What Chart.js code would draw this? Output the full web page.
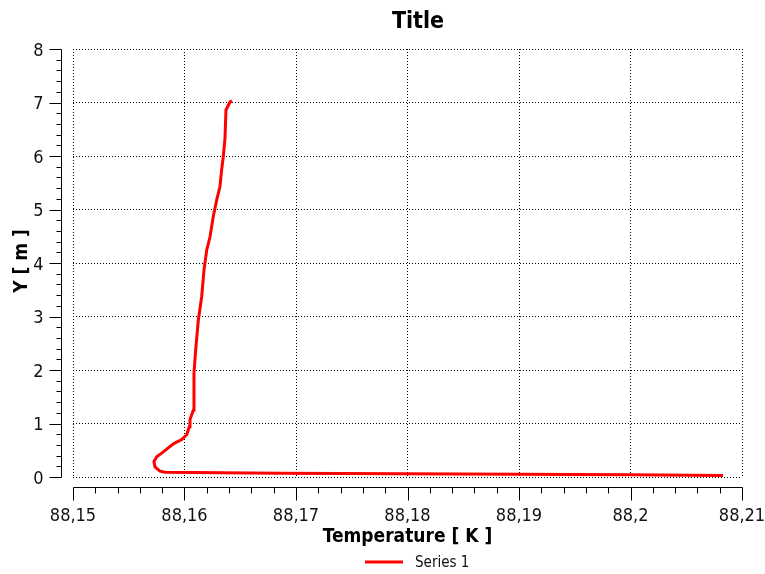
<!DOCTYPE html>
<html>
<head>
<meta charset="utf-8">
<script src="https://cdn.jsdelivr.net/npm/chart.js@4"></script>
<style>
  html, body { margin: 0; padding: 0; background: #fff; }
  canvas { display: block; }
</style>
</head>
<body>
<canvas id="profile" width="765" height="574"></canvas>
<script>
// Temperature profile along Y

var temperature = [
  88.20830, 88.19996, 88.19009, 88.17933, 88.16857, 88.16318, 88.15825,
  88.15780, 88.15735, 88.15726, 88.15751, 88.15810, 88.15900, 88.15975,
  88.16020, 88.16043, 88.16049, 88.16079, 88.16085, 88.16100, 88.16124,
  88.16154, 88.16175, 88.16199, 88.16229, 88.16258, 88.16289, 88.16318,
  88.16333, 88.16348, 88.16363, 88.16372, 88.16408, 88.16426
];
var height = [
  0.03, 0.04, 0.05, 0.06, 0.07, 0.08, 0.09,
  0.11, 0.19, 0.29, 0.38, 0.47, 0.62, 0.70,
  0.79, 0.94, 1.07, 1.25, 1.94, 2.37, 2.93,
  3.37, 3.87, 4.24, 4.49, 4.87, 5.18, 5.43,
  5.74, 5.99, 6.33, 6.86, 7.01, 7.03
];

var xTicks = [88.15, 88.16, 88.17, 88.18, 88.19, 88.20, 88.21];
var xTickLabels = ['88,15', '88,16', '88,17', '88,18', '88,19', '88,2', '88,21'];
var yTicks = [0, 1, 2, 3, 4, 5, 6, 7, 8];
var yTickLabels = ['0', '1', '2', '3', '4', '5', '6', '7', '8'];

var tickFont = '18px "DejaVu Sans Condensed", "DejaVu Sans", sans-serif';
var titleFont = 'bold 19px "DejaVu Sans Condensed", "DejaVu Sans", sans-serif';

// axes sit a little away from the plot area, with minor ticks
var detachedAxes = {
  id: 'detachedAxes',
  afterDraw: function (chart) {
    var ctx = chart.ctx;
    var area = chart.chartArea;
    var x = chart.scales.x;
    var y = chart.scales.y;
    var axisX = area.left - 11.5;
    var axisY = area.bottom + 10.5;
    var i, k, v, p;

    ctx.save();
    ctx.strokeStyle = '#000';
    ctx.lineWidth = 1;

    // y axis
    ctx.beginPath();
    ctx.moveTo(axisX, Math.round(y.getPixelForValue(yTicks[yTicks.length - 1])) + 0.5);
    ctx.lineTo(axisX, Math.round(y.getPixelForValue(yTicks[0])) + 0.5);
    for (i = 0; i < yTicks.length; i++) {
      p = Math.round(y.getPixelForValue(yTicks[i])) + 0.5;
      ctx.moveTo(axisX - 12, p);
      ctx.lineTo(axisX, p);
      if (i < yTicks.length - 1) {
        for (k = 1; k < 5; k++) {
          v = yTicks[i] + (yTicks[i + 1] - yTicks[i]) * k / 5;
          p = Math.round(y.getPixelForValue(v)) + 0.5;
          ctx.moveTo(axisX - 5, p);
          ctx.lineTo(axisX, p);
        }
      }
    }
    ctx.stroke();

    // x axis
    ctx.beginPath();
    ctx.moveTo(Math.round(x.getPixelForValue(xTicks[0])) + 0.5, axisY);
    ctx.lineTo(Math.round(x.getPixelForValue(xTicks[xTicks.length - 1])) + 0.5, axisY);
    for (i = 0; i < xTicks.length; i++) {
      p = Math.round(x.getPixelForValue(xTicks[i])) + 0.5;
      ctx.moveTo(p, axisY);
      ctx.lineTo(p, axisY + 13);
      if (i < xTicks.length - 1) {
        for (k = 1; k < 5; k++) {
          v = xTicks[i] + (xTicks[i + 1] - xTicks[i]) * k / 5;
          p = Math.round(x.getPixelForValue(v)) + 0.5;
          ctx.moveTo(p, axisY);
          ctx.lineTo(p, axisY + 6);
        }
      }
    }
    ctx.stroke();

    // tick labels
    ctx.fillStyle = '#111';
    ctx.font = tickFont;
    ctx.textBaseline = 'alphabetic';
    ctx.textAlign = 'right';
    for (i = 0; i < yTicks.length; i++) {
      ctx.fillText(yTickLabels[i], axisX - 18, y.getPixelForValue(yTicks[i]) + 6.5);
    }
    ctx.textAlign = 'center';
    for (i = 0; i < xTicks.length; i++) {
      ctx.fillText(xTickLabels[i], x.getPixelForValue(xTicks[i]), 521);
    }

    // axis titles
    ctx.fillStyle = '#000';
    ctx.font = titleFont;
    ctx.fillText('Temperature [ K ]', (area.left + area.right) / 2, 542);
    ctx.save();
    ctx.translate(27, (area.top + area.bottom) / 2 - 2);
    ctx.rotate(-Math.PI / 2);
    ctx.fillText('Y [ m ]', 0, 0);
    ctx.restore();

    // chart title
    ctx.font = 'bold 23px "DejaVu Sans Condensed", "DejaVu Sans", sans-serif';
    ctx.fillText('Title', 418, 28);

    // legend
    var ds = chart.data.datasets[0];
    ctx.strokeStyle = ds.borderColor;
    ctx.lineWidth = 3;
    ctx.beginPath();
    ctx.moveTo(365, 562);
    ctx.lineTo(403, 562);
    ctx.stroke();
    ctx.fillStyle = '#111';
    ctx.font = '15px "DejaVu Sans Condensed", "DejaVu Sans", sans-serif';
    ctx.textAlign = 'left';
    ctx.fillText(ds.label, 415, 567);

    ctx.restore();
  }
};

var points = temperature.map(function (t, i) {
  return { x: t, y: height[i] };
});

var profile = document.getElementById('profile').getContext('2d');
new Chart(profile, {
  type: 'scatter',
  data: {
    datasets: [{
      label: 'Series 1',
      data: points,
      showLine: true,
      borderColor: '#ff0000',
      backgroundColor: '#ff0000',
      borderWidth: 3,
      pointRadius: 0,
      tension: 0
    }]
  },
  options: {
    responsive: false,
    animation: false,
    devicePixelRatio: 1,
    layout: {
      padding: { left: 73, top: 49, right: 23, bottom: 97 }
    },
    plugins: {
      legend: { display: false },
      title: { display: false },
      tooltip: { enabled: false }
    },
    scales: {
      x: {
        type: 'linear',
        min: xTicks[0],
        max: xTicks[xTicks.length - 1],
        afterBuildTicks: function (scale) {
          scale.ticks = xTicks.map(function (v) { return { value: v }; });
        },
        afterFit: function (scale) { scale.height = 0; },
        ticks: { display: false },
        grid: { color: '#000', lineWidth: 1, drawTicks: false, borderDash: [1, 2] },
        border: { display: false, dash: [1, 2] }
      },
      y: {
        type: 'linear',
        min: yTicks[0],
        max: yTicks[yTicks.length - 1],
        afterBuildTicks: function (scale) {
          scale.ticks = yTicks.map(function (v) { return { value: v }; });
        },
        afterFit: function (scale) { scale.width = 0; },
        ticks: { display: false },
        grid: { color: '#000', lineWidth: 1, drawTicks: false, borderDash: [1, 2] },
        border: { display: false, dash: [1, 2] }
      }
    }
  },
  plugins: [detachedAxes]
});
</script>
</body>
</html>
